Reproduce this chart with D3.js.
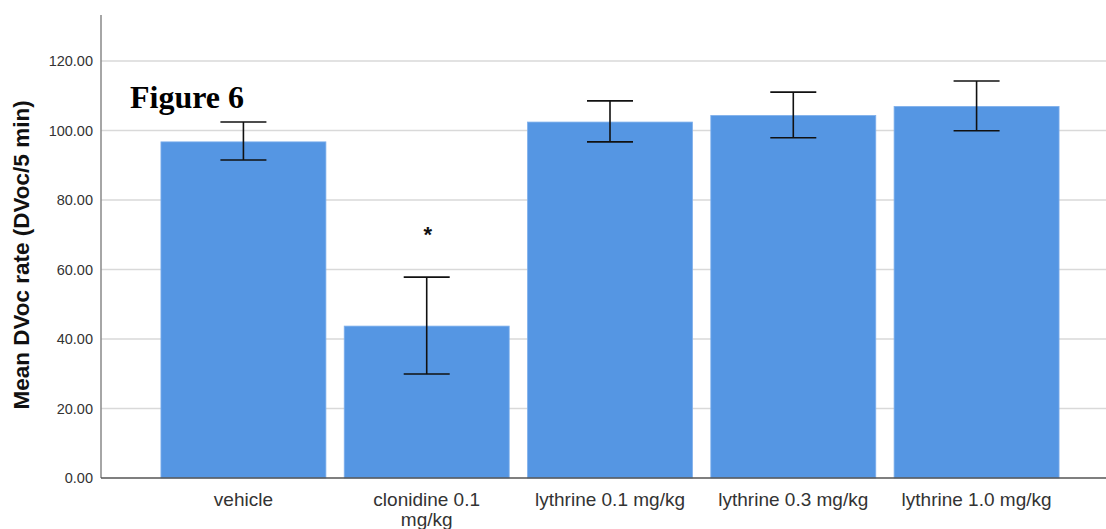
<!DOCTYPE html>
<html>
<head>
<meta charset="utf-8">
<script src="https://cdn.jsdelivr.net/npm/d3@7"></script>
<style>
  body { margin: 0; background: #fff; }
  svg { display: block; }
</style>
</head>
<body>
<div id="container"></div>
<script>
// data
let groups = ["vehicle", "clonidine 0.1 mg/kg", "lythrine 0.1 mg/kg", "lythrine 0.3 mg/kg", "lythrine 1.0 mg/kg"];
let means = [96.7, 43.7, 102.4, 104.3, 106.9];
let errLow = [91.5, 29.9, 96.7, 97.9, 99.9];
let errHigh = [102.4, 57.8, 108.5, 111.0, 114.2];
let yTicks = [0, 20, 40, 60, 80, 100, 120];
let starred = ["clonidine 0.1 mg/kg"];

let W = 1106, H = 529;
let x0 = 101, yBase = 478, yTop = 15;

let svg = d3.select("#container").append("svg")
    .attr("width", W)
    .attr("height", H);

let xScale = d3.scaleBand()
    .domain(groups)
    .range([x0, 1119])
    .paddingInner(0.1)
    .paddingOuter(0.327);

let yScale = d3.scaleLinear()
    .domain([0, 133.2])
    .range([yBase, yTop]);

// gridlines
svg.append("g")
    .selectAll("line").data(yTicks.filter(d => d > 0))
    .enter().append("line")
      .attr("x1", x0).attr("x2", W)
      .attr("y1", d => yScale(d)).attr("y2", d => yScale(d))
      .attr("stroke", "#d9d9d9")
      .attr("stroke-width", 1.5);

// y axis
let yAxis = d3.axisLeft(yScale)
    .tickValues(yTicks)
    .tickFormat(d3.format(".2f"))
    .tickSize(0)
    .tickPadding(8);

let yg = svg.append("g")
    .attr("transform", "translate(" + x0 + ",0)")
    .call(yAxis);
yg.select(".domain").remove();
yg.selectAll("text")
    .attr("font-family", "Liberation Sans, Arial, sans-serif")
    .attr("font-size", 14.5)
    .attr("fill", "#333");

svg.append("line")
    .attr("x1", x0).attr("x2", x0)
    .attr("y1", yTop).attr("y2", yBase)
    .attr("stroke", "#888")
    .attr("stroke-width", 1.5);

// bars
svg.append("g")
    .selectAll("rect").data(groups)
    .enter().append("rect")
      .attr("x", d => xScale(d))
      .attr("width", xScale.bandwidth())
      .attr("y", (d, i) => yScale(means[i]))
      .attr("height", (d, i) => yBase - yScale(means[i]))
      .attr("fill", "#5596e3")
      .attr("stroke", "#7fb0ec")
      .attr("stroke-width", 0.8);

// x axis line
svg.append("line")
    .attr("x1", x0).attr("x2", W)
    .attr("y1", yBase).attr("y2", yBase)
    .attr("stroke", "#555")
    .attr("stroke-width", 1.5);

// error bars
let capHalf = 23;
let eb = svg.append("g").attr("stroke", "#111").attr("stroke-width", 1.6);
groups.forEach(function(g, i) {
  let cx = xScale(g) + xScale.bandwidth() / 2;
  eb.append("line")
      .attr("x1", cx).attr("x2", cx)
      .attr("y1", yScale(errHigh[i])).attr("y2", yScale(errLow[i]));
  [errHigh[i], errLow[i]].forEach(function(v) {
    eb.append("line")
        .attr("x1", cx - capHalf).attr("x2", cx + capHalf)
        .attr("y1", yScale(v)).attr("y2", yScale(v));
  });
});

// significance marker
svg.selectAll(".star").data(starred)
    .enter().append("text")
      .attr("class", "star")
      .attr("x", d => xScale(d) + xScale.bandwidth() / 2 + 1)
      .attr("y", yScale(errHigh[groups.indexOf("clonidine 0.1 mg/kg")]) - 35)
      .attr("text-anchor", "middle")
      .attr("font-family", "Liberation Sans, Arial, sans-serif")
      .attr("font-weight", "bold")
      .attr("font-size", 22)
      .attr("fill", "#111")
      .text("*");

// x labels (wrap clonidine like SPSS does)
let labelLines = {
  "clonidine 0.1 mg/kg": ["clonidine 0.1", "mg/kg"]
};
let xl = svg.append("g")
    .selectAll("text").data(groups)
    .enter().append("text")
      .attr("x", d => xScale(d) + xScale.bandwidth() / 2)
      .attr("y", 506)
      .attr("text-anchor", "middle")
      .attr("font-family", "Liberation Sans, Arial, sans-serif")
      .attr("font-size", 19)
      .attr("fill", "#333");
xl.each(function(d) {
  let lines = labelLines[d] || [d];
  let t = d3.select(this);
  lines.forEach(function(l, k) {
    t.append("tspan")
        .attr("x", xScale(d) + xScale.bandwidth() / 2)
        .attr("dy", k === 0 ? 0 : 20)
        .text(l);
  });
});

// y title
svg.append("text")
    .attr("transform", "translate(29,255) rotate(-90)")
    .attr("text-anchor", "middle")
    .attr("font-family", "Liberation Sans, Arial, sans-serif")
    .attr("font-weight", "bold")
    .attr("font-size", 22.5)
    .attr("fill", "#111")
    .text("Mean DVoc rate (DVoc/5 min)");

// figure label
svg.append("text")
    .attr("x", 130)
    .attr("y", 108)
    .attr("font-family", "Liberation Serif, Times New Roman, serif")
    .attr("font-weight", "bold")
    .attr("font-size", 32)
    .attr("fill", "#000")
    .text("Figure 6");
</script>
</body>
</html>
